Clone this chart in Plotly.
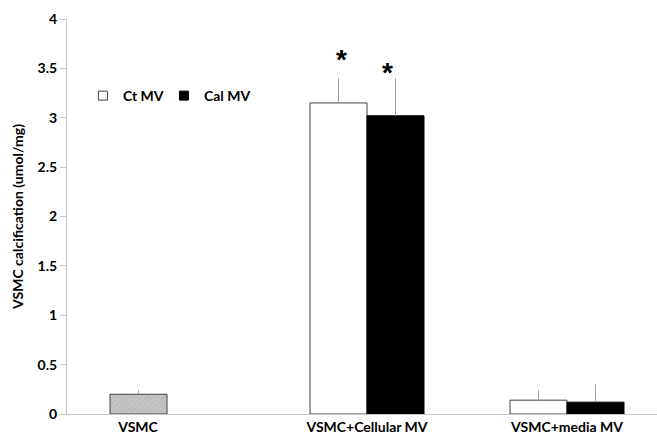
import plotly.graph_objects as go

# Data
categories = ["VSMC", "VSMC+Cellular MV", "VSMC+media MV"]
vsmc_value = [0.20]
vsmc_err = [0.04]
ct_values = [3.15, 0.14]
ct_err = [0.25, 0.10]
cal_values = [3.02, 0.12]
cal_err = [0.38, 0.18]
sig_labels = ["*", "*"]
y_ticks = [0, 0.5, 1, 1.5, 2, 2.5, 3, 3.5, 4]

x_vsmc = [0]
x_groups = [1, 2]
bw = 0.285
FONT = "Lato"

fig = go.Figure()
fig.add_trace(go.Bar(
    x=x_vsmc, y=vsmc_value, width=bw, offset=-bw, showlegend=False,
    marker=dict(color="#c4c4c4", line=dict(color="#404040", width=1),
                pattern=dict(shape="/", fgcolor="#b0b0b0", size=4, solidity=0.3)),
    error_y=dict(type="data", symmetric=False, array=vsmc_err, arrayminus=[0],
                 color="#a0a0a0", thickness=1, width=0),
))
fig.add_trace(go.Bar(
    x=x_groups, y=ct_values, width=bw, offset=-bw, showlegend=False,
    marker=dict(color="white", line=dict(color="#404040", width=1)),
    error_y=dict(type="data", symmetric=False, array=ct_err, arrayminus=[0, 0],
                 color="#a0a0a0", thickness=1, width=0),
))
fig.add_trace(go.Bar(
    x=x_groups, y=cal_values, width=bw, offset=0, showlegend=False,
    marker=dict(color="black", line=dict(color="black", width=1)),
    error_y=dict(type="data", symmetric=False, array=cal_err, arrayminus=[0, 0],
                 color="#a0a0a0", thickness=1, width=0),
))
# legend entries (small square markers like the original)
fig.add_trace(go.Scatter(x=[None], y=[None], mode="markers", name="Ct MV",
                         marker=dict(symbol="square", size=9, color="white",
                                     line=dict(color="#404040", width=1))))
fig.add_trace(go.Scatter(x=[None], y=[None], mode="markers", name="Cal MV",
                         marker=dict(symbol="square", size=9, color="black",
                                     line=dict(color="black", width=1))))
# invisible spacer entry so the last legend label is not clipped
fig.add_trace(go.Scatter(x=[None], y=[None], mode="markers", name=" ",
                         marker=dict(symbol="square", size=1, color="rgba(0,0,0,0)",
                                     line=dict(width=0, color="rgba(0,0,0,0)"))))

# significance stars above the cellular MV bars
fig.add_annotation(x=x_groups[0] - bw / 2, y=ct_values[0] + ct_err[0], text="<b>" + sig_labels[0] + "</b>",
                   showarrow=False, yanchor="bottom", yshift=1, xshift=3,
                   font=dict(size=28, color="black", family="Liberation Sans"))
fig.add_annotation(x=x_groups[0] + bw / 2, y=cal_values[0] + cal_err[0], text="<b>" + sig_labels[1] + "</b>",
                   showarrow=False, yanchor="bottom", yshift=-12, xshift=-8,
                   font=dict(size=28, color="black", family="Liberation Sans"))

fig.update_layout(
    width=657, height=441,
    margin=dict(l=67, r=0, t=19, b=27),
    paper_bgcolor="white", plot_bgcolor="white",
    barmode="overlay",
    font=dict(family=FONT, size=14, color="black"),
    legend=dict(orientation="h", x=0.027, y=0.805, xanchor="left", yanchor="middle",
                font=dict(size=14, family=FONT, weight="bold"),
                bgcolor="rgba(0,0,0,0)", itemwidth=30, traceorder="normal",
                entrywidth=36),
    xaxis=dict(range=[-0.5, 2.45], tickmode="array",
               tickvals=[-0.145, 1, 2], ticktext=categories,
               showline=True, linecolor="#c8c8c8", linewidth=1,
               ticks="", showgrid=False, zeroline=False, automargin=False,
               tickfont=dict(size=14, family=FONT, weight="bold")),
    yaxis=dict(range=[0, 4], tickmode="array",
               tickvals=y_ticks, ticktext=[f"{v:g}" for v in y_ticks],
               showline=True, linecolor="#c8c8c8", linewidth=1,
               ticks="outside", ticklen=6, tickcolor="#c8c8c8",
               showgrid=False, zeroline=False, automargin=False,
               tickfont=dict(size=14, family=FONT, weight="bold"),
               title=dict(text="VSMC calcification (umol/mg)", standoff=10,
                          font=dict(size=14, family=FONT, weight="bold"))),
)

fig.write_html("out.html", config={"displayModeBar": False},
               post_script="document.body.style.margin='0px';")
